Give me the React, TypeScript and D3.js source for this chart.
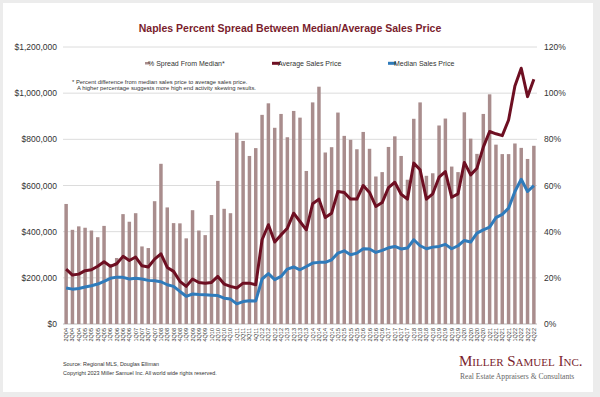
import React from 'react';
import * as d3 from 'd3';

// quarters
const quarters = [
  '2Q04', '3Q04', '4Q04',
  '1Q05', '2Q05', '3Q05', '4Q05',
  '1Q06', '2Q06', '3Q06', '4Q06',
  '1Q07', '2Q07', '3Q07', '4Q07',
  '1Q08', '2Q08', '3Q08', '4Q08',
  '1Q09', '2Q09', '3Q09', '4Q09',
  '1Q10', '2Q10', '3Q10', '4Q10',
  '1Q11', '2Q11', '3Q11', '4Q11',
  '1Q12', '2Q12', '3Q12', '4Q12',
  '1Q13', '2Q13', '3Q13', '4Q13',
  '1Q14', '2Q14', '3Q14', '4Q14',
  '1Q15', '2Q15', '3Q15', '4Q15',
  '1Q16', '2Q16', '3Q16', '4Q16',
  '1Q17', '2Q17', '3Q17', '4Q17',
  '1Q18', '2Q18', '3Q18', '4Q18',
  '1Q19', '2Q19', '3Q19', '4Q19',
  '1Q20', '2Q20', '3Q20', '4Q20',
  '1Q21', '2Q21', '3Q21', '4Q21',
  '1Q22', '2Q22', '3Q22', '4Q22',
];

// % spread from median (bars, right axis)
const spreadPct = [
  52, 40.8, 42.3,
  41.7, 40.5, 37.6, 42.5,
  26, 28.6, 47.6, 44.3,
  48, 33.6, 32.9, 53.2,
  69.4, 50.5, 43.7, 43.6,
  37.1, 49.3, 40.5, 38.5,
  47.2, 62, 49.9, 48,
  82.9, 79.3, 72.8, 76.2,
  90.6, 95.6, 85, 91,
  80.9, 92.3, 89.4, 66.3,
  96, 102.8, 74.3, 76.6,
  91.6, 81.5, 79.8, 75.7,
  83.2, 75.9, 63.9, 65.8,
  76.7, 81.3, 72.8, 62.5,
  88.9, 96, 64.2, 65.3,
  86, 89, 68.2, 65.8,
  91.7, 80.3, 73.7, 91,
  99.5, 77.7, 73.6, 73.6,
  78.2, 76.3, 71.5, 77.2,
];

// average sales price
const avgPrice = [
  238000, 212000, 216000,
  231000, 235000, 250000, 270000,
  250000, 261000, 293000, 275000,
  290000, 252000, 247000, 281000,
  304000, 245000, 228000, 185000,
  163000, 195000, 180000, 177000,
  180000, 206000, 173000, 163000,
  156000, 177000, 177000, 170000,
  365000, 430000, 355000, 386000,
  415000, 480000, 444000, 408000,
  521000, 541000, 461000, 480000,
  574000, 570000, 541000, 541000,
  600000, 570000, 509000, 526000,
  591000, 614000, 562000, 541000,
  697000, 668000, 541000, 564000,
  636000, 660000, 549000, 564000,
  700000, 646000, 675000, 766000,
  834000, 824000, 816000, 884000,
  1031000, 1108000, 985000, 1060000,
];

// median sales price
const medianPrice = [
  156000, 151000, 154000,
  160000, 166000, 173000, 185000,
  198000, 203000, 202000, 195000,
  198000, 195000, 189000, 187000,
  183000, 170000, 163000, 141000,
  120000, 130000, 128000, 127000,
  125000, 123000, 112000, 108000,
  87000, 97000, 101000, 100000,
  195000, 218000, 192000, 206000,
  238000, 247000, 235000, 249000,
  264000, 267000, 267000, 278000,
  307000, 317000, 300000, 307000,
  326000, 325000, 310000, 319000,
  330000, 336000, 325000, 329000,
  365000, 339000, 326000, 333000,
  336000, 345000, 326000, 339000,
  362000, 355000, 394000, 408000,
  420000, 461000, 475000, 502000,
  574000, 627000, 574000, 599000,
];

const leftTicks = [0, 200000, 400000, 600000, 800000, 1000000, 1200000];
const rightTicks = [0, 20, 40, 60, 80, 100, 120];

const W = 600;
const H = 397;
const plot = { left: 63, right: 537, top: 47, bottom: 324 };

const BAR = '#a98d8d';
const AVG = '#6e0f22';
const MED = '#2f7bbb';
const TITLE = '#7a1d2d';
const sans = '"Liberation Sans", Arial, sans-serif';
const serif = '"Liberation Serif", "Times New Roman", serif';

export default function App() {
  const x = d3.scaleBand<string>().domain(quarters).range([plot.left, plot.right]).paddingInner(0.45).paddingOuter(0.22);
  const yL = d3.scaleLinear().domain([0, 1200000]).range([plot.bottom, plot.top]);
  const yR = d3.scaleLinear().domain([0, 120]).range([plot.bottom, plot.top]);
  const cx = (i: number) => (x(quarters[i]) as number) + x.bandwidth() / 2;

  const line = d3.line<number>().x((_, i) => cx(i)).y(d => yL(d));
  const fmt = (v: number) => '$' + d3.format(',')(v);

  return (
    <svg width={W} height={H} style={{ position: 'absolute', left: 0, top: 0 }} fontFamily={sans}>
      <rect x={0} y={0} width={W} height={H} fill="#ececec" />
      <rect x={3} y={3} width={590} height={389} fill="#ffffff" />

      <text x={290} y={32} textAnchor="middle" fontSize={10.5} fontWeight="bold" fill={TITLE}>
        Naples Percent Spread Between Median/Average Sales Price
      </text>

      {/* grid */}
      {leftTicks.map(t => (
        <line key={t} x1={plot.left} x2={plot.right} y1={yL(t)} y2={yL(t)} stroke={t === 0 ? '#bdbdbd' : '#dcdcdc'} strokeWidth={1} />
      ))}

      {/* left axis */}
      {leftTicks.map(t => (
        <text key={'l' + t} x={57} y={yL(t) + 3} textAnchor="end" fontSize={8.5} fill="#333">{fmt(t)}</text>
      ))}
      {/* right axis */}
      {rightTicks.map(t => (
        <text key={'r' + t} x={544} y={yR(t) + 3} textAnchor="start" fontSize={8.5} fill="#333">{t + '%'}</text>
      ))}

      {/* bars */}
      {spreadPct.map((v, i) => (
        <rect key={quarters[i]} x={x(quarters[i])} y={yR(v)} width={x.bandwidth()} height={plot.bottom - yR(v)} fill={BAR} />
      ))}

      {/* lines */}
      <path d={line(avgPrice) || ''} fill="none" stroke={AVG} strokeWidth={3} strokeLinejoin="round" />
      <path d={line(medianPrice) || ''} fill="none" stroke={MED} strokeWidth={3} strokeLinejoin="round" />

      {/* x labels */}
      {quarters.map((q, i) => (
        <text key={'x' + q} transform={`translate(${cx(i) + 2},${plot.bottom + 4}) rotate(-90)`} textAnchor="end" fontSize={5.5} fill="#333">{q}</text>
      ))}

      {/* legend */}
      <rect x={145} y={62} width={5} height={2.5} fill={BAR} />
      <text x={148} y={65.5} fontSize={7} fill="#333">% Spread From Median*</text>
      <rect x={272} y={61.8} width={8} height={3} fill={AVG} />
      <text x={278} y={65.5} fontSize={7} fill="#333">Average Sales Price</text>
      <rect x={388} y={61.8} width={8} height={3} fill={MED} />
      <text x={394} y={65.5} fontSize={7} fill="#333">Median Sales Price</text>

      {/* note */}
      <text x={72} y={83.5} fontSize={5.85} fill="#333">*  Percent difference from median sales price to average sales price.</text>
      <text x={77} y={90} fontSize={5.85} fill="#333">A higher percentage suggests more high end activity skewing results.</text>

      {/* source */}
      <text x={63} y={366} fontSize={5.4} fill="#333">Source: Regional MLS, Douglas Elliman</text>
      <text x={63} y={375} fontSize={5.4} fill="#333">Copyright 2023 Miller Samuel Inc.  All world wide rights reserved.</text>

      {/* logo */}
      <text x={459} y={366} fontFamily={serif} fontSize={15} fill={TITLE} style={{ fontVariant: 'small-caps' }}>Miller Samuel Inc.</text>
      <text x={460} y={379} fontFamily={serif} fontSize={7.6} fill="#666">Real Estate Appraisers &amp; Consultants</text>
    </svg>
  );
}
